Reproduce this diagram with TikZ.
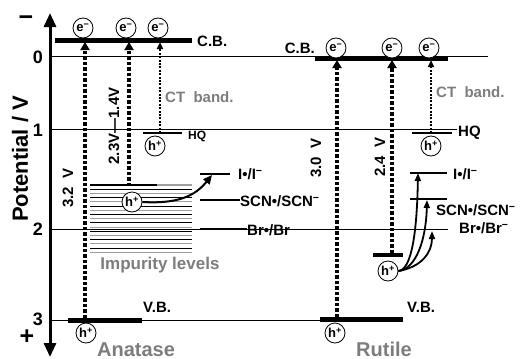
\documentclass[tikz,border=0pt]{standalone}
\usepackage{fontspec}
\setmainfont{Liberation Sans}
\usetikzlibrary{arrows.meta,positioning,calc}
\definecolor{notegray}{RGB}{125,125,125}
\definecolor{stripegray}{RGB}{160,160,160}
\newcommand{\setfs}[1]{\fontsize{#1}{#1}\selectfont}
\newcommand{\supminus}{\textsuperscript{−}}
\newcommand{\supplus}{\textsuperscript{+}}

\begin{document}
\begin{tikzpicture}[x=1pt,y=-1pt,font=\bfseries,
    carrier/.style={draw,circle,fill=white,line width=0.8pt,inner sep=0pt,minimum size=20pt,font=\bfseries\setfs{13}},
    band/.style={line width=5pt},
    level/.style={line width=1.4pt},
    gridline/.style={line width=1pt},
    excite/.style={line width=3.5pt,dash pattern=on 3.5pt off 2pt,-{Triangle[length=8pt,width=9pt]}},
    ctarrow/.style={line width=1.8pt,dash pattern=on 2pt off 1.4pt,-{Triangle[length=7pt,width=6pt]}},
    hop/.style={line width=1.8pt,-{Triangle[length=8pt,width=6pt]}},
    lbl/.style={inner sep=0pt,font=\bfseries\setfs{15}},
    note/.style={inner sep=0pt,text=notegray,font=\bfseries\setfs{15}}]
  \useasboundingbox (0,0) rectangle (528,359);
  % Potential axis
  \coordinate (axbot) at (50,357);
  \coordinate (axtop) at (50,13);
  \draw[line width=3pt,{Triangle[length=14pt,width=12pt]}-{Triangle[length=14pt,width=12pt]}] (axbot) -- (axtop);
  \node[inner sep=0pt,font=\bfseries\setfs{25}] (minus) at (26,21) {−};
  \node[inner sep=0pt,font=\bfseries\setfs{25}] (plus) at (27,337) {+};
  \node[inner sep=0pt,rotate=90,font=\bfseries\setfs{22}] (ylab) at (20,159) {Potential / V};
  \node[inner sep=0pt,font=\bfseries\setfs{18}] (t0) at (38,57) {0};
  \node[inner sep=0pt,font=\bfseries\setfs{18}] (t1) at (38,130) {1};
  \node[inner sep=0pt,font=\bfseries\setfs{18}] (t2) at (38,229) {2};
  \node[inner sep=0pt,font=\bfseries\setfs{18}] (t3) at (38,319) {3};
  % Grid lines
  \draw[gridline] (50,56) -- (488,56);
  \draw[gridline] (50,129) -- (457,129);
  \draw[gridline] (50,229) -- (448,229);
  \draw[gridline] (50,320) -- (322,320);
  % Anatase bands
  \draw[band] (55,40) -- (192,40);
  \draw[band] (68,320) -- (142,320);
  \node[lbl,anchor=west] (acb) at (197,41) {C.B.};
  \node[lbl,anchor=west] (avb) at (143,307) {V.B.};
  % Impurity levels
  \foreach \i in {1,...,16} {
    \ifodd\i \def\stc{black} \else \def\stc{stripegray} \fi
    \draw[line width=0.9pt,\stc] (90,185+\i*4.2) -- (192,185+\i*4.2);
  }
  \draw[line width=1.6pt] (90,185) -- (157,185);
  \draw[line width=1.6pt,stripegray] (157,185) -- (192,185);
  \node[note,font=\bfseries\setfs{17}] (imp) at (160,265) {Impurity levels};
  % Anatase redox levels
  \draw[level] (143,133) -- (182,133);
  \node[inner sep=0pt,anchor=west,font=\bfseries\setfs{12}] (ahq) at (188,136) {HQ};
  \draw[level] (200,174) -- (230,174);
  \node[lbl,anchor=west] (ai) at (238,174) {I•/I\supminus};
  \draw[level] (200,200) -- (240,200);
  \node[lbl,anchor=west] (ascn) at (240,201) {SCN•/SCN\supminus};
  \draw[level] (200,229) -- (247,229);
  \node[lbl,anchor=west] (abr) at (247,230) {Br•/Br};
  % Anatase carriers
  \node[carrier] (ae1) at (83,28) {e\supminus};
  \node[carrier] (ae2) at (126,28) {e\supminus};
  \node[carrier] (ae3) at (158,28) {e\supminus};
  \node[carrier] (ah1) at (86,333) {h\supplus};
  \node[carrier] (ah2) at (155,146) {h\supplus};
  \coordinate (avb1) at (85,318);
  \coordinate (acb1) at (85,42);
  \coordinate (aimp) at (129,186);
  \coordinate (acb2) at (129,42);
  \coordinate (ahq1) at (160,133);
  \coordinate (acb3) at (160,42);
  \draw[excite] (avb1) -- (acb1);
  \draw[excite] (aimp) -- (acb2);
  \draw[ctarrow] (ahq1) -- (acb3);
  \node[carrier] (ah3) at (132,202) {h\supplus};
  \coordinate (ai1) at (212,175);
  \draw[line width=2pt,-{Triangle[length=9pt,width=8pt]}] (ah3.east) .. controls (178,204) and (195,196) .. (ai1);
  \node[lbl,rotate=90] (agap) at (68,188) {3.2\ \ V};
  \node[lbl,rotate=90] (aimpgap) at (114,126) {2.3V—1.4V};
  \node[note,anchor=west] (act) at (165,97) {CT\ \ band.};
  \node[note,font=\bfseries\setfs{20},anchor=base] (ana) at (136,356) {Anatase};
  % Rutile bands
  \draw[band] (315,58.5) -- (448,58.5);
  \draw[band] (320,319) -- (403,319);
  \draw[line width=4pt] (373,255) -- (403,255);
  \node[lbl,anchor=east] (rcb) at (315,48) {C.B.};
  \node[lbl,anchor=west] (rvb) at (407,307) {V.B.};
  % Rutile redox levels
  \draw[level] (412,133) -- (452,133);
  \node[inner sep=0pt,anchor=west,font=\bfseries\setfs{15}] (rhq) at (458,133) {HQ};
  \draw[level] (410,173) -- (447,173);
  \node[lbl,anchor=west] (ri) at (453,174) {I•/I\supminus};
  \draw[level] (410,199) -- (447,199);
  \node[lbl,anchor=west] (rscn) at (436,210) {SCN•/SCN\supminus};
  \node[lbl,anchor=west] (rbr) at (459,228) {Br•/Br\supminus};
  % Rutile carriers
  \node[carrier] (re1) at (336,48) {e\supminus};
  \node[carrier] (re2) at (392,48) {e\supminus};
  \node[carrier] (re3) at (429,48) {e\supminus};
  \node[carrier] (rh1) at (335,333) {h\supplus};
  \node[carrier] (rh2) at (431,146) {h\supplus};
  \node[carrier] (rh3) at (388,271) {h\supplus};
  \coordinate (rvb1) at (337,317);
  \coordinate (rcb1) at (337,60);
  \coordinate (rimp) at (392,253);
  \coordinate (rcb2) at (392,60);
  \coordinate (rhq1) at (431,133);
  \coordinate (rcb3) at (431,60);
  \draw[excite] (rvb1) -- (rcb1);
  \draw[excite] (rimp) -- (rcb2);
  \draw[ctarrow] (rhq1) -- (rcb3);
  \coordinate (ri1) at (418,173);
  \coordinate (rscn1) at (427,200);
  \coordinate (rbr1) at (432,231);
  \draw[hop] (rh3.east) .. controls (412,270) and (417,230) .. (ri1);
  \draw[hop] (rh3.east) .. controls (416,269) and (426,240) .. (rscn1);
  \draw[hop] (rh3.east) .. controls (422,267) and (432,252) .. (rbr1);
  \node[lbl,rotate=90] (rgap) at (316,158) {3.0\ \ V};
  \node[lbl,rotate=90] (rimpgap) at (380,157) {2.4\ \ V};
  \node[note,anchor=west] (rct) at (436,92) {CT\ \ band.};
  \node[note,font=\bfseries\setfs{20},anchor=base] (rut) at (384,356) {Rutile};
\end{tikzpicture}
\end{document}
